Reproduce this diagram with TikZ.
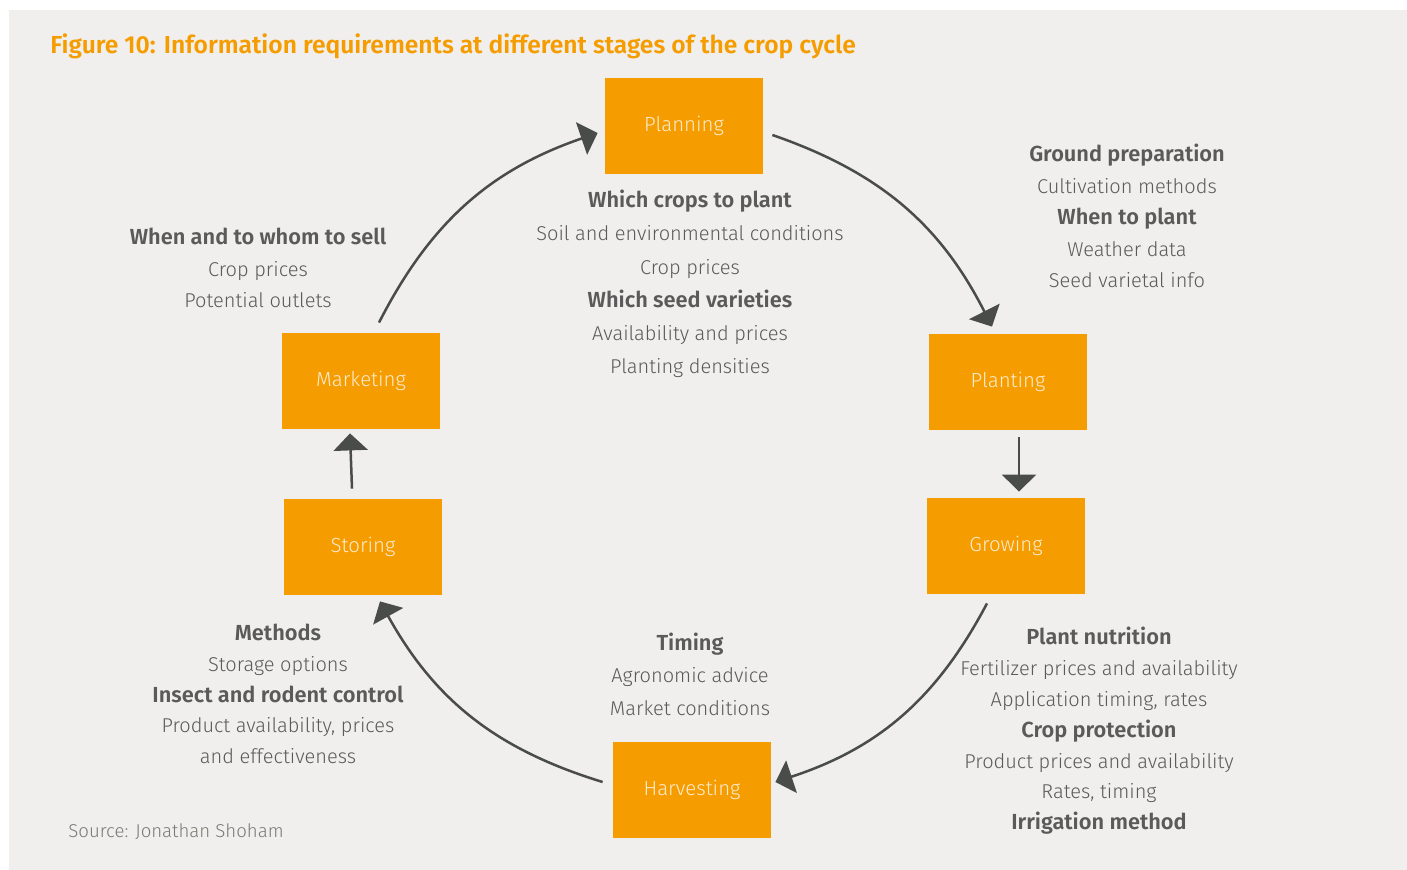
\documentclass[tikz,border=0pt]{standalone}
\usepackage{fontspec}
\setmainfont{Fira Sans Light}[BoldFont={Fira Sans SemiBold}]
\usepackage{xcolor}
\usepackage{tikz}
\usetikzlibrary{positioning, arrows.meta}

\definecolor{cropfill}{HTML}{F59D00}
\definecolor{boxtext}{HTML}{FDEBCF}
\definecolor{bggray}{HTML}{F0EFED}
\definecolor{arrowgray}{HTML}{4A4C49}
\definecolor{infogray}{HTML}{5A5A5A}
\definecolor{srcgray}{HTML}{7A7A72}

% bold heading line inside an info block
\newcommand{\hd}[1]{{\fontsize{10.9}{12}\selectfont\bfseries #1}}

\begin{document}
\begin{tikzpicture}[
    x=0.5pt, y=-0.5pt,
    stage/.style={fill=cropfill, text=boxtext, minimum width=79pt,
                  minimum height=48pt, inner sep=0pt, font=\fontsize{10.2}{12}\selectfont},
    info/.style={align=center, text=infogray, inner sep=0pt,
                 font=\fontsize{10}{15.8}\selectfont},
    arr/.style={-{Triangle[length=8.5pt, width=17pt]}, line width=1.25pt, draw=arrowgray},
]
    \useasboundingbox[fill=white] (0,0) rectangle (1407,870);
    \fill[bggray] (9,10) rectangle (1407,870);

    \node[anchor=base west, text=cropfill, inner sep=0pt,
          font=\fontsize{12.3}{15}\selectfont\bfseries] (title) at (50,54)
        {Figure 10: Information requirements at different stages of the crop cycle};

    % stages of the cycle
    \node[stage] (plan) at (684,126) {Planning};
    \node[stage] (plant) at (1008,382) {Planting};
    \node[stage] (grow) at (1006,546) {Growing};
    \node[stage] (harv) at (692,790) {Harvesting};
    \node[stage] (stor) at (363,547) {Storing};
    \node[stage] (mark) at (361,381) {Marketing};

    % information needed at each stage
    \node[info, font=\fontsize{10}{16.6}\selectfont] (planinfo) at (690,284) {\hd{Which crops to plant}\\
        Soil and environmental conditions\\
        Crop prices\\
        \hd{Which seed varieties}\\
        Availability and prices\\
        Planting densities};
    \node[info] (plantinfo) at (1127,216) {\hd{Ground preparation}\\
        Cultivation methods\\
        \hd{When to plant}\\
        Weather data\\
        Seed varietal info};
    \node[info] (markinfo) at (258,268) {\hd{When and to whom to sell}\\
        Crop prices\\
        Potential outlets};
    \node[info, font=\fontsize{10}{15.4}\selectfont] (growinfo) at (1099,731) {\hd{Plant nutrition}\\
        Fertilizer prices and availability\\
        Application timing, rates\\
        \hd{Crop protection}\\
        Product prices and availability\\
        Rates, timing\\
        \hd{Irrigation method}};
    \node[info, font=\fontsize{10}{16.3}\selectfont] (harvinfo) at (690,674) {\hd{Timing}\\
        Agronomic advice\\
        Market conditions};
    \node[info, font=\fontsize{10}{15.4}\selectfont] (storinfo) at (278,694) {\hd{Methods}\\
        Storage options\\
        \hd{Insect and rodent control}\\
        Product availability, prices\\
        and effectiveness};

    \node[anchor=west, text=srcgray, inner sep=0pt, font=\fontsize{9.3}{11}\selectfont] (src) at (68,832)
        {Source: Jonathan Shoham};

    % connectors
    \draw[arr] ([shift={(9,9)}]plan.east) to[bend left=22] ([shift={(-16,-7)}]plant.north);
    \draw[arr] ([shift={(11,7)}]plant.south) -- ([shift={(13,-6)}]grow.north);
    \draw[arr] ([shift={(-19,9)}]grow.south) to[bend left=22] ([shift={(4,-8)}]harv.east);
    \draw[arr] ([shift={(-10,-8)}]harv.west) to[bend left=22] ([shift={(17,6)}]stor.south);
    \draw[arr] ([shift={(-11,-10)}]stor.north) -- ([shift={(-11,4)}]mark.south);
    \draw[arr] ([shift={(18,-10)}]mark.north) to[bend left=22] ([shift={(-7,7)}]plan.west);
\end{tikzpicture}
\end{document}
